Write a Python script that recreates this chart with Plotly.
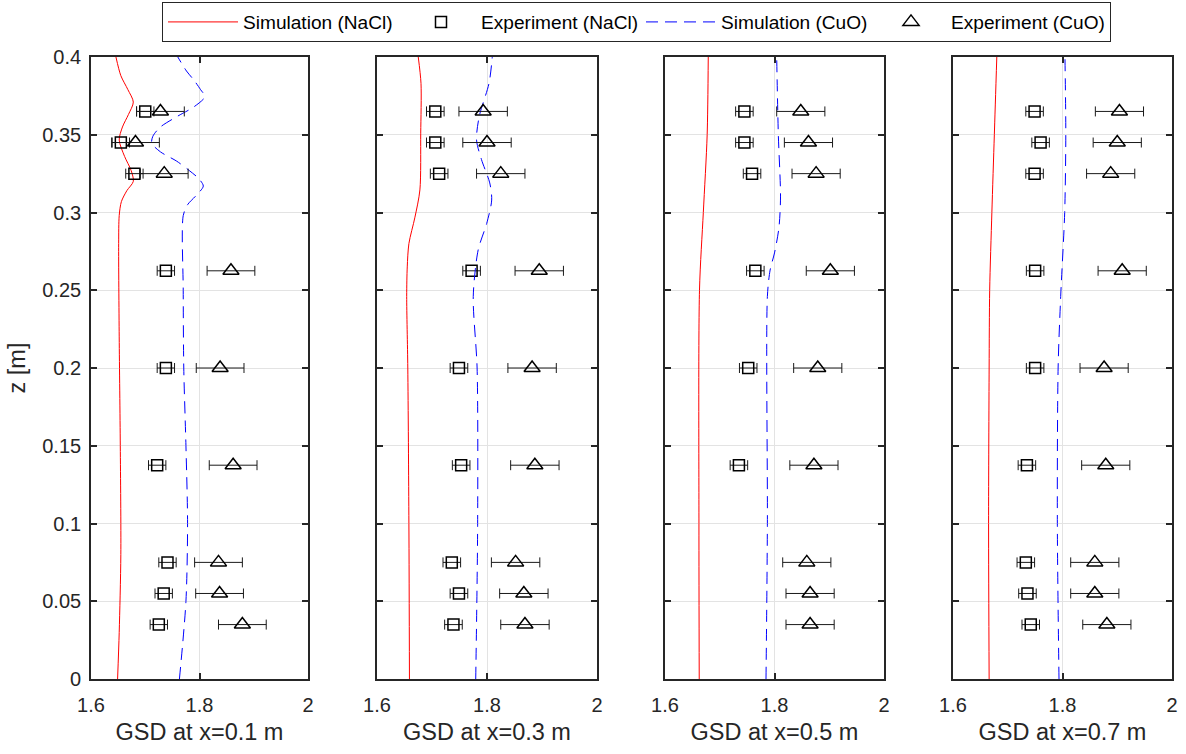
import plotly.graph_objects as go

# ---------------- data ----------------
x_tick_vals = [1.6, 1.8, 2.0]
x_tick_text = ["1.6", "1.8", "2"]
y_tick_vals = [0, 0.05, 0.1, 0.15, 0.2, 0.25, 0.3, 0.35, 0.4]
y_tick_text = ["0", "0.05", "0.1", "0.15", "0.2", "0.25", "0.3", "0.35", "0.4"]
x_titles = ["GSD at x=0.1 m", "GSD at x=0.3 m", "GSD at x=0.5 m", "GSD at x=0.7 m"]

# experiment heights
z_exp = [0.035, 0.055, 0.075, 0.1375, 0.2, 0.2625, 0.325, 0.345, 0.365]

# experimental GSD (NaCl, squares) per panel
exp_nacl_1 = [1.725, 1.734, 1.741, 1.722, 1.738, 1.738, 1.680, 1.655, 1.700]
exp_nacl_2 = [1.739, 1.749, 1.736, 1.753, 1.749, 1.772, 1.713, 1.706, 1.706]
exp_nacl_3 = [None, None, None, 1.735, 1.752, 1.765, 1.759, 1.745, 1.745]
exp_nacl_4 = [1.742, 1.736, 1.733, 1.735, 1.750, 1.750, 1.749, 1.760, 1.749]

# experimental GSD (CuO, triangles) per panel
exp_cuo_1 = [1.879, 1.837, 1.835, 1.862, 1.838, 1.858, 1.735, 1.682, 1.728]
exp_cuo_2 = [1.869, 1.867, 1.852, 1.887, 1.882, 1.895, 1.825, 1.800, 1.793]
exp_cuo_3 = [1.865, 1.865, 1.859, 1.872, 1.879, 1.902, 1.876, 1.862, 1.848]
exp_cuo_4 = [1.881, 1.859, 1.859, 1.879, 1.876, 1.909, 1.888, 1.900, 1.904]

err_nacl = 0.016
err_cuo = 0.044

# simulation NaCl (red) per panel
sim_nacl_z_1 = [0, 0.03, 0.08, 0.15, 0.22, 0.28, 0.298, 0.307, 0.314, 0.320, 0.327, 0.336, 0.3466,
                0.355, 0.363, 0.371, 0.379, 0.388, 0.4]
sim_nacl_v_1 = [1.649, 1.652, 1.655, 1.654, 1.652, 1.651, 1.652, 1.656, 1.666, 1.678, 1.674, 1.662,
                1.652, 1.658, 1.669, 1.678, 1.668, 1.655, 1.646]
sim_nacl_z_2 = [0, 0.1, 0.2, 0.246, 0.265, 0.28, 0.297, 0.3145, 0.351, 0.383, 0.4]
sim_nacl_v_2 = [1.659, 1.658, 1.656, 1.654, 1.655, 1.658, 1.669, 1.678, 1.6795, 1.680, 1.675]
sim_nacl_z_3 = [0, 0.1, 0.25, 0.3, 0.35, 0.4]
sim_nacl_v_3 = [1.6625, 1.662, 1.663, 1.670, 1.677, 1.679]
sim_nacl_z_4 = [0, 0.1, 0.2, 0.25, 0.3, 0.35, 0.4]
sim_nacl_v_4 = [1.666, 1.665, 1.666, 1.667, 1.671, 1.6755, 1.680]

# simulation CuO (blue dashed) per panel
sim_cuo_z_1 = [0, 0.05, 0.1, 0.15, 0.2, 0.25, 0.298, 0.305, 0.311, 0.317, 0.322, 0.327, 0.333,
               0.339, 0.3445, 0.349, 0.355, 0.362, 0.368, 0.3745, 0.379, 0.385, 0.391, 0.4]
sim_cuo_v_1 = [1.763, 1.775, 1.778, 1.775, 1.771, 1.770, 1.770, 1.778, 1.794, 1.807, 1.798, 1.781,
               1.758, 1.728, 1.712, 1.714, 1.728, 1.760, 1.790, 1.810, 1.802, 1.790, 1.776, 1.760]
sim_cuo_z_2 = [0, 0.1, 0.2, 0.246, 0.276, 0.293, 0.308, 0.319, 0.334, 0.3466, 0.362, 0.383, 0.4]
sim_cuo_v_2 = [1.7795, 1.783, 1.782, 1.775, 1.784, 1.7995, 1.8085, 1.805, 1.790, 1.781, 1.786,
               1.8036, 1.8096]
sim_cuo_z_3 = [0, 0.1, 0.246, 0.263, 0.274, 0.29, 0.31, 0.35, 0.4]
sim_cuo_v_3 = [1.7845, 1.787, 1.787, 1.792, 1.800, 1.808, 1.811, 1.807, 1.804]
sim_cuo_z_4 = [0, 0.1, 0.2, 0.246, 0.3, 0.35, 0.4]
sim_cuo_v_4 = [1.7936, 1.7906, 1.792, 1.7967, 1.804, 1.806, 1.8045]

legend_names = ["Simulation (NaCl)", "Experiment (NaCl)", "Simulation (CuO)", "Experiment (CuO)"]

# ---------------- figure ----------------
W, H = 1186, 754
x_domains_px = [(91, 308), (377, 597), (665, 884), (953, 1172)]
y_domain = [1 - 679 / H, 1 - 57 / H]

FONT = "Liberation Sans, Arial, Helvetica, sans-serif"
AX = "#262626"

sim_nacl = [(sim_nacl_z_1, sim_nacl_v_1), (sim_nacl_z_2, sim_nacl_v_2),
            (sim_nacl_z_3, sim_nacl_v_3), (sim_nacl_z_4, sim_nacl_v_4)]
sim_cuo = [(sim_cuo_z_1, sim_cuo_v_1), (sim_cuo_z_2, sim_cuo_v_2),
           (sim_cuo_z_3, sim_cuo_v_3), (sim_cuo_z_4, sim_cuo_v_4)]
exp_nacl = [exp_nacl_1, exp_nacl_2, exp_nacl_3, exp_nacl_4]
exp_cuo = [exp_cuo_1, exp_cuo_2, exp_cuo_3, exp_cuo_4]

legend_widths = [153, 155, 145, None]

fig = go.Figure()
for i in range(4):
    xa = "x" if i == 0 else f"x{i+1}"
    ya = "y" if i == 0 else f"y{i+1}"
    show = i == 0
    fig.add_trace(go.Scatter(
        x=sim_nacl[i][1], y=sim_nacl[i][0], mode="lines",
        line=dict(color="#ff0000", width=1, shape="spline", smoothing=0.8),
        name=legend_names[0], showlegend=show, legendwidth=legend_widths[0],
        xaxis=xa, yaxis=ya))
    fig.add_trace(go.Scatter(
        x=exp_nacl[i], y=z_exp, mode="markers",
        marker=dict(symbol="square-open", size=11, color="black", line=dict(width=1.5, color="black")),
        error_x=dict(type="constant", value=err_nacl, color="#1a1a1a", thickness=1, width=5),
        name=legend_names[1], showlegend=show, legendwidth=legend_widths[1],
        xaxis=xa, yaxis=ya))
    fig.add_trace(go.Scatter(
        x=sim_cuo[i][1], y=sim_cuo[i][0], mode="lines",
        line=dict(color="#0000ff", width=1, dash="12px,7px", shape="spline", smoothing=0.8),
        name=legend_names[2], showlegend=show, legendwidth=legend_widths[2],
        xaxis=xa, yaxis=ya))
    fig.add_trace(go.Scatter(
        x=exp_cuo[i], y=z_exp, mode="markers",
        marker=dict(symbol="triangle-up-open", size=14, color="black", line=dict(width=1.5, color="black")),
        error_x=dict(type="constant", value=err_cuo, color="#1a1a1a", thickness=1, width=5),
        name=legend_names[3], showlegend=show,
        xaxis=xa, yaxis=ya))

layout = dict(
    width=W, height=H,
    margin=dict(l=0, r=0, t=0, b=0, autoexpand=False),
    paper_bgcolor="white", plot_bgcolor="white",
    font=dict(family=FONT, color=AX),
    showlegend=True,
    legend=dict(orientation="h", x=162 / W, xanchor="left", y=1 - 2 / H, yanchor="top",
                bgcolor="white", bordercolor=AX, borderwidth=1,
                font=dict(family=FONT, size=19.1, color="black"),
                itemwidth=70, traceorder="normal"),
)
for i in range(4):
    xk = "xaxis" if i == 0 else f"xaxis{i+1}"
    yk = "yaxis" if i == 0 else f"yaxis{i+1}"
    ya = "y" if i == 0 else f"y{i+1}"
    xa = "x" if i == 0 else f"x{i+1}"
    x0, x1 = x_domains_px[i]
    layout[xk] = dict(
        domain=[x0 / W, x1 / W], anchor=ya, range=[1.6, 2.0],
        tickvals=x_tick_vals, ticktext=x_tick_text,
        ticks="inside", ticklen=6, tickwidth=1.5, tickcolor=AX,
        showline=True, linecolor=AX, linewidth=1.7, mirror="ticks",
        showgrid=True, gridcolor="#e3e3e3", gridwidth=1, zeroline=False,
        tickfont=dict(family=FONT, size=20, color=AX), ticklabelstandoff=7,
        title=dict(text=x_titles[i], font=dict(family=FONT, size=23.5, color=AX), standoff=9),
    )
    layout[yk] = dict(
        domain=y_domain, anchor=xa, range=[0, 0.4],
        tickvals=y_tick_vals, ticktext=y_tick_text,
        ticks="inside", ticklen=6, tickwidth=1.5, tickcolor=AX,
        showline=True, linecolor=AX, linewidth=1.7, mirror="ticks",
        showgrid=True, gridcolor="#e3e3e3", gridwidth=1, zeroline=False,
        showticklabels=(i == 0),
        tickfont=dict(family=FONT, size=20, color=AX), ticklabelstandoff=4,
    )
layout["yaxis"]["title"] = dict(text="z [m]", font=dict(family=FONT, size=23.5, color=AX), standoff=10)

fig.update_layout(**layout)
fig.write_html("out.html")
